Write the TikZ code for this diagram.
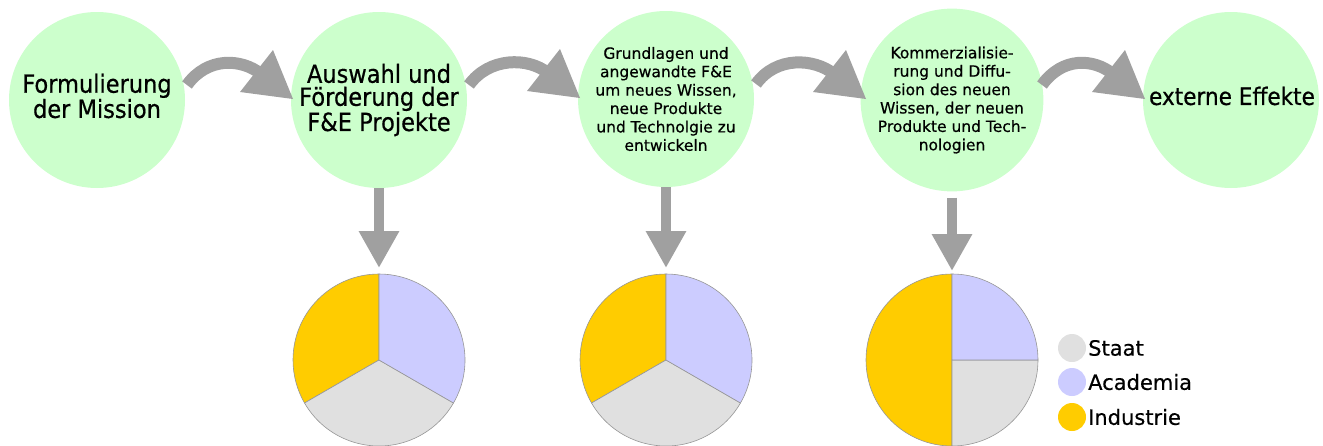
\documentclass[tikz,border=0pt]{standalone}
\usepackage{fontspec}
\setmainfont[FakeBold=0.5]{DejaVu Sans}
\newfontfamily\bigf[FakeStretch=0.9,FakeBold=0.6]{DejaVu Sans}
\usetikzlibrary{calc,arrows.meta}
\definecolor{mint}{RGB}{204,255,204}
\definecolor{arrgray}{RGB}{160,160,160}
\definecolor{gold}{RGB}{255,204,0}
\definecolor{lav}{RGB}{204,204,255}
\definecolor{stategray}{RGB}{224,224,224}
\definecolor{edgegray}{RGB}{150,150,150}
\newcommand\flowarrow[2]{%
  \draw[band] ($(#1.center)+(90,-15)$) .. controls ($(#1.center)+(110,-43)$) and ($(#2.center)+(-138,-42)$) .. ($(#2.center)+(-118,-26)$);
  \fill[headfill] ($(#2.center)+(-106,-50)$) -- ($(#2.center)+(-86,-1)$) -- ($(#2.center)+(-139,-8)$) -- cycle;}
\newcommand\pieslice[4]{\filldraw[slice,fill=#1] (#2) -- ++(#3:86) arc[start angle=#3,end angle=#4,radius=86] -- cycle;}
\begin{document}
\begin{tikzpicture}[x=1pt,y=-1pt,
  stage/.style={circle,fill=mint,minimum size=176pt,inner sep=0pt,align=center,text=black},
  bigtext/.style={font=\bigf\fontsize{25}{23}\selectfont},
  smalltext/.style={font=\fontsize{15.5}{18.4}\selectfont},
  band/.style={draw=arrgray,line width=12pt},
  headfill/.style={fill=arrgray},
  downarrow/.style={draw=arrgray,line width=10pt,-{Triangle[width=38pt,length=37pt]}},
  slice/.style={draw=edgegray,line width=0.6pt},
  legdot/.style={circle,minimum size=28pt,inner sep=0pt},
  legtext/.style={anchor=west,font=\fontsize{21}{21}\selectfont,inner sep=0pt}]
\useasboundingbox (0,0) rectangle (1323,445);

\node[stage,bigtext] (c1) at (97,100) {};
\node[bigtext,align=center,inner sep=0pt] (c1t) at (97,96) {Formulierung\\der Mission};
\node[stage,bigtext] (c2) at (379,100) {Auswahl und\\Förderung der\\F\&E Projekte};
\node[stage,smalltext] (c3) at (666,99) {Grundlagen und\\angewandte F\&E\\um neues Wissen,\\neue Produkte\\und Technolgie zu\\entwickeln};
\node[stage,smalltext] (c4) at (952,100) {Kommerzialisie-\\rung und Diffu-\\sion des neuen\\Wissen, der neuen\\Produkte und Tech-\\nologien};
\node[stage] (c5) at (1231,100) {};
\node[font=\bigf\fontsize{24}{24}\selectfont,inner sep=0pt] (c5t) at (1232,96) {externe Effekte};

\flowarrow{c1}{c2}
\flowarrow{c2}{c3}
\flowarrow{c3}{c4}
\flowarrow{c4}{c5}

\coordinate (p1) at (379,360);
\coordinate (p2) at (666,360);
\coordinate (p3) at (952,360);

\coordinate (t1) at (379,268);
\coordinate (t2) at (666,268);
\coordinate (t3) at (952,271);
\draw[downarrow] (c2) -- (t1);
\draw[downarrow] (c3) -- (t2);
\draw[downarrow,shorten <=6pt] (c4) -- (t3);

\pieslice{gold}{p1}{-90}{-210}
\pieslice{stategray}{p1}{-210}{-330}
\pieslice{lav}{p1}{-330}{-450}

\pieslice{gold}{p2}{-90}{-210}
\pieslice{stategray}{p2}{-210}{-330}
\pieslice{lav}{p2}{-330}{-450}

\pieslice{gold}{p3}{-90}{-270}
\pieslice{stategray}{p3}{-270}{-360}
\pieslice{lav}{p3}{0}{-90}

\node[legdot,fill=stategray] (l1) at (1072,348) {};
\node[legdot,fill=lav] (l2) at (1072,382) {};
\node[legdot,fill=gold] (l3) at (1072,417) {};
\node[legtext] (l1t) at (1088,348) {Staat};
\node[legtext] (l2t) at (1088,382) {Academia};
\node[legtext] (l3t) at (1088,417) {Industrie};
\end{tikzpicture}
\end{document}
